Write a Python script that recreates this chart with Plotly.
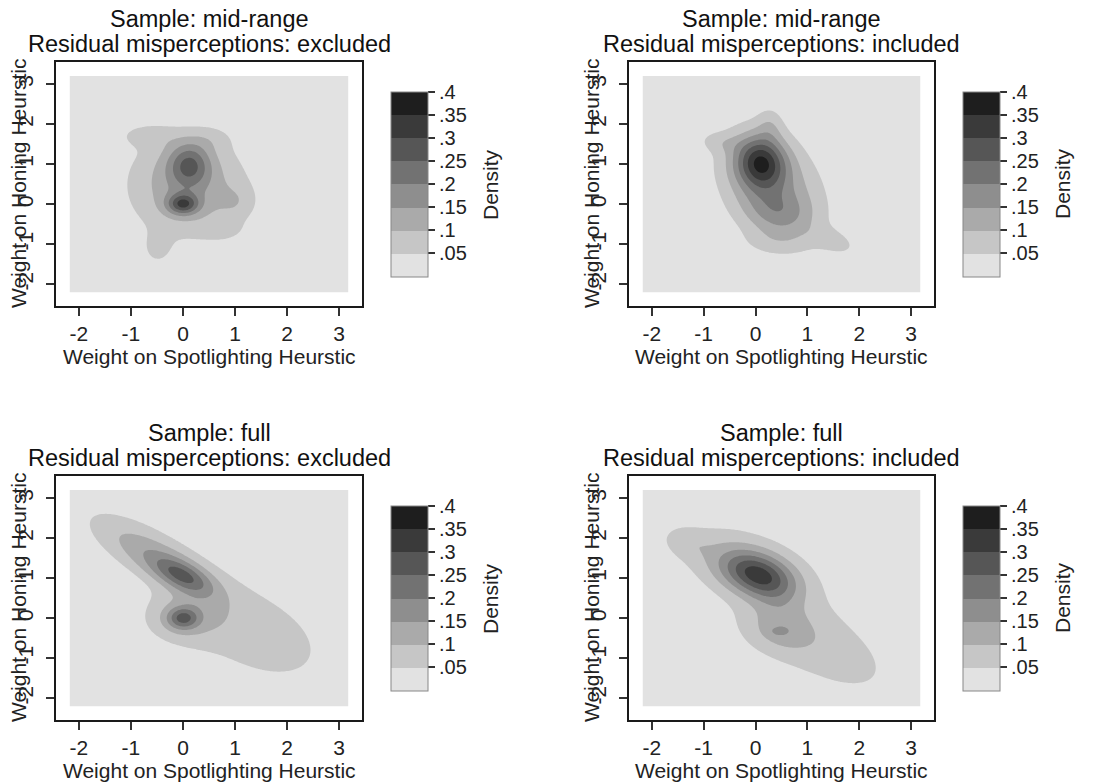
import numpy as np
import plotly.graph_objects as go

# ---------------- data ----------------
title_line1 = ["Sample: mid-range", "Sample: mid-range", "Sample: full", "Sample: full"]
title_line2 = ["Residual misperceptions: excluded", "Residual misperceptions: included",
               "Residual misperceptions: excluded", "Residual misperceptions: included"]
x_title = "Weight on Spotlighting Heurstic"
y_title = "Weight on Honing Heurstic"
cbar_title = "Density"
tick_vals = [-2, -1, 0, 1, 2, 3]
tick_text = ["-2", "-1", "0", "1", "2", "3"]
density_levels = [0.05, 0.10, 0.15, 0.20, 0.25, 0.30, 0.35, 0.40]
density_labels = [".05", ".1", ".15", ".2", ".25", ".3", ".35", ".4"]
band_colors = ["#e2e2e2", "#c6c6c6", "#aaaaaa", "#8e8e8e",
               "#727272", "#565656", "#3a3a3a", "#1e1e1e"]
grid_x_range = [-2.18, 3.18]
grid_y_range = [-2.2, 3.2]

# density surface, as a few elliptical bumps:
# centre x, centre y, major spread, minor spread, angle (deg), height
p1_cx = [0.08, 0.00, 0.12, -0.70, 1.05, -0.50, 0.80, 0.55]
p1_cy = [0.45, 0.00, 1.00, 1.72, 0.05, -1.15, -0.65, 1.65]
p1_sa = [0.90, 0.21, 0.38, 0.38, 0.30, 0.32, 0.30, 0.30]
p1_sb = [0.80, 0.18, 0.28, 0.20, 0.25, 0.22, 0.20, 0.22]
p1_ang = [95, 0, 90, 0, 90, 90, 0, 0]
p1_h = [0.14, 0.20, 0.16, 0.05, 0.04, 0.045, 0.03, 0.03]

p2_cx = [0.30, 0.10, 0.45, 0.28, 1.55, -0.70, 0.40]
p2_cy = [0.45, 1.05, -0.22, 2.00, -0.95, 1.55, -0.95]
p2_sa = [1.00, 0.45, 0.45, 0.32, 0.35, 0.30, 0.50]
p2_sb = [0.65, 0.33, 0.35, 0.18, 0.20, 0.18, 0.25]
p2_ang = [-68, 95, -20, 90, -30, -10, 0]
p2_h = [0.15, 0.25, 0.075, 0.05, 0.055, 0.04, 0.035]

p3_cx = [-0.85, 1.35, 0.00, -0.35, 0.00, 0.00]
p3_cy = [1.85, -0.35, 1.05, 1.35, 0.00, 0.00]
p3_sa = [1.05, 1.40, 0.45, 0.85, 0.21, 0.55]
p3_sb = [0.42, 0.85, 0.22, 0.32, 0.19, 0.45]
p3_ang = [-38, -38, -35, -36, 0, 0]
p3_h = [0.075, 0.075, 0.15, 0.065, 0.16, 0.08]

p4_cx = [-0.25, 0.05, 1.20, 0.45, 0.45, 0.40, -1.35]
p4_cy = [1.45, 1.08, -0.62, -0.33, -0.33, 0.45, 1.90]
p4_sa = [1.05, 0.52, 1.50, 0.50, 0.13, 0.45, 0.32]
p4_sb = [0.58, 0.34, 0.72, 0.38, 0.08, 0.30, 0.24]
p4_ang = [-25, -30, -40, -20, 0, -55, -30]
p4_h = [0.085, 0.23, 0.075, 0.065, 0.04, 0.03, 0.04]

panels = [
    (p1_cx, p1_cy, p1_sa, p1_sb, p1_ang, p1_h),
    (p2_cx, p2_cy, p2_sa, p2_sb, p2_ang, p2_h),
    (p3_cx, p3_cy, p3_sa, p3_sb, p3_ang, p3_h),
    (p4_cx, p4_cy, p4_sa, p4_sb, p4_ang, p4_h),
]

# ---------------- build surfaces ----------------
gx = np.linspace(grid_x_range[0], grid_x_range[1], 201)
gy = np.linspace(grid_y_range[0], grid_y_range[1], 201)
GX, GY = np.meshgrid(gx, gy)


def surface(cx, cy, sa, sb, ang, h):
    z = np.zeros_like(GX)
    for a, b, s1, s2, t, hh in zip(cx, cy, sa, sb, ang, h):
        th = np.deg2rad(t)
        dx, dy = GX - a, GY - b
        u = (dx * np.cos(th) + dy * np.sin(th)) / s1
        v = (-dx * np.sin(th) + dy * np.cos(th)) / s2
        z += hh * np.exp(-0.5 * (u * u + v * v))
    return z


W, H = 1104, 783
FONT = "Liberation Sans, Arial, sans-serif"
frames = [  # left, right, top, bottom in pixels
    (56, 362, 62, 306),
    (629, 934, 62, 306),
    (56, 362, 476, 720),
    (629, 934, 476, 720),
]

n = len(density_levels)
cont_scale = [[i / (n - 1), c] for i, c in enumerate(band_colors)]
bar_scale = []
for i, c in enumerate(band_colors):
    bar_scale.append([i / n, c])
    bar_scale.append([(i + 1) / n, c])

fig = go.Figure()
annotations = []
for k, (comp, fr) in enumerate(zip(panels, frames)):
    L, R, T, B = fr
    z = surface(*comp)
    xa = "x" if k == 0 else f"x{k + 1}"
    ya = "y" if k == 0 else f"y{k + 1}"
    fig.add_trace(go.Contour(
        x=gx, y=gy, z=z, xaxis=xa, yaxis=ya,
        colorscale=cont_scale, showscale=False,
        autocontour=False,
        contours=dict(start=density_levels[0], end=density_levels[-2],
                      size=density_levels[1] - density_levels[0],
                      coloring="fill", showlines=False),
        line=dict(width=0, smoothing=1.0),
        hoverinfo="skip",
    ))
    # colour key for the density bands
    fig.add_trace(go.Scatter(
        x=[None], y=[None], xaxis=xa, yaxis=ya, mode="markers",
        hoverinfo="skip", showlegend=False,
        marker=dict(
            color=[0.0, 0.4], cmin=0.0, cmax=0.4, colorscale=bar_scale,
            showscale=True,
            colorbar=dict(
                x=(R + 29) / W, xanchor="left",
                y=1 - ((T + B) / 2) / H, yanchor="middle",
                len=185 / H, lenmode="fraction", thickness=37,
                outlinecolor="#888888", outlinewidth=1,
                ticks="outside", ticklen=7, tickwidth=1.5, tickcolor="#333333",
                tickvals=density_levels, ticktext=density_labels,
                tickfont=dict(family=FONT, size=20, color="#222222"),
                xpad=0, ypad=0,
            ),
        ),
    ))
    axis_common = dict(
        showline=True, mirror=True, linecolor="#1a1a1a", linewidth=2,
        showgrid=False, zeroline=False,
        ticks="outside", ticklen=8, tickwidth=1.5, tickcolor="#333333",
        tickvals=tick_vals, ticktext=tick_text,
        tickfont=dict(family=FONT, size=21, color="#222222"),
    )
    xkey = "xaxis" if k == 0 else f"xaxis{k + 1}"
    ykey = "yaxis" if k == 0 else f"yaxis{k + 1}"
    fig.update_layout({
        xkey: dict(axis_common, domain=[L / W, R / W], range=[-2.44, 3.44],
                   anchor=ya),
        ykey: dict(axis_common, domain=[1 - B / H, 1 - T / H],
                   range=[-2.54, 3.55], anchor=xa, tickangle=-90,
                   ticklabelstandoff=5),
    })
    cx_mid = (L + R) / 2
    for txt, dy in ((title_line1[k], 43), (title_line2[k], 18)):
        annotations.append(dict(
            text=txt, x=cx_mid / W, y=1 - (T - dy) / H,
            xref="paper", yref="paper", xanchor="center", yanchor="middle",
            showarrow=False, font=dict(family=FONT, size=23.5, color="#111111")))
    annotations.append(dict(
        text=x_title, x=cx_mid / W, y=1 - (B + 50) / H,
        xref="paper", yref="paper", xanchor="center", yanchor="middle",
        showarrow=False, font=dict(family=FONT, size=21, color="#222222")))
    annotations.append(dict(
        text=y_title, x=(L - 38) / W, y=1 - ((T + B) / 2) / H,
        xref="paper", yref="paper", xanchor="center", yanchor="middle",
        textangle=-90,
        showarrow=False, font=dict(family=FONT, size=21, color="#222222")))
    annotations.append(dict(
        text=cbar_title, x=(R + 128) / W, y=1 - ((T + B) / 2) / H,
        xref="paper", yref="paper", xanchor="center", yanchor="middle",
        textangle=-90,
        showarrow=False, font=dict(family=FONT, size=21, color="#222222")))

fig.update_layout(
    width=W, height=H, margin=dict(l=0, r=0, t=0, b=0),
    paper_bgcolor="white", plot_bgcolor="white",
    showlegend=False, annotations=annotations,
)
fig.write_html("out.html")
